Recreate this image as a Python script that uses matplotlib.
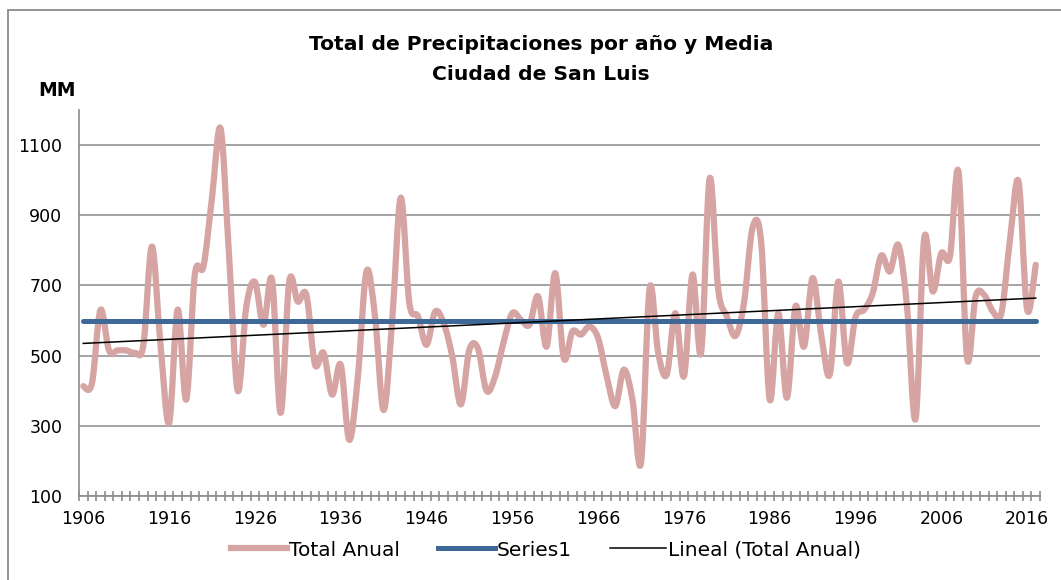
import numpy as np
import matplotlib
matplotlib.use("Agg")
import matplotlib.pyplot as plt
from matplotlib.path import Path
from matplotlib.patches import PathPatch, Rectangle
from matplotlib.lines import Line2D

plt.rcParams["font.family"] = ["DejaVu Sans"]

# ----------------------------------------------------------
# DATA
# ----------------------------------------------------------
years = list(range(1906, 2018))
total_anual = [
    413, 420, 630, 515, 515, 515, 508, 530, 811, 530,
    308, 631, 375, 731, 754, 950, 1147, 780, 400, 640,
    710, 588, 716, 337, 711, 654, 673, 475, 508, 389,
    474, 260, 440, 740, 612, 345, 600, 950, 650, 612,
    531, 625, 593, 498, 361, 517, 520, 400, 441, 540,
    621, 602, 588, 669, 526, 735, 493, 569, 560, 583,
    550, 441, 356, 460, 375, 195, 692, 508, 446, 621,
    441, 731, 508, 1005, 688, 612, 556, 650, 865, 825,
    375, 621, 380, 640, 526, 721, 560, 446, 711, 479,
    610, 631, 678, 785, 740, 815, 640, 320, 834, 683,
    792, 782, 1024, 493, 669, 673, 626, 621, 830, 996,
    631, 759,
]
media = 599
series1 = [media] * len(years)
label_years = list(range(1906, 2017, 10))
y_ticks = [100, 300, 500, 700, 900, 1100]

PINK = "#D6A4A3"
BLUE = "#3E6898"
GRID = "#8C8C8C"

# ----------------------------------------------------------
# smoothed line like Excel (bezier through every point)
# ----------------------------------------------------------
x = np.array(years, dtype=float)
y = np.array(total_anual, dtype=float)
pts = np.column_stack([x, y])
ext = np.vstack([pts[0], pts, pts[-1]])
verts = [pts[0]]
codes = [Path.MOVETO]
for i in range(len(pts) - 1):
    p_prev, p0, p1, p_next = ext[i], ext[i + 1], ext[i + 2], ext[i + 3]
    c1 = p0 + (p1 - p_prev) / 6.0
    c2 = p1 - (p_next - p0) / 6.0
    verts += [c1, c2, p1]
    codes += [Path.CURVE4] * 3

fig = plt.figure(figsize=(10.61, 5.80), dpi=100)
ax = fig.add_axes([79 / 1061, 84 / 580, (1040 - 79) / 1061, (496 - 110) / 580])

ax.add_patch(PathPatch(Path(verts, codes), fill=False, edgecolor=PINK, lw=4.5,
                       capstyle="round", joinstyle="round", zorder=3))
ax.plot(years, series1, color=BLUE, lw=3.6, solid_capstyle="round", zorder=4)

# linear trend
k, b = np.polyfit(x, y, 1)
ax.plot(x, k * x + b, color="black", lw=1.1, zorder=5)

ax.set_xlim(1905.5, 2017.5)
ax.set_ylim(100, 1200)
ax.set_yticks(y_ticks)
ax.set_yticklabels([str(v) for v in y_ticks])
ax.set_xticks(label_years)
ax.set_xticklabels([str(v) for v in label_years])
ax.set_xticks(np.arange(1905.5, 2018, 1.0), minor=True)
ax.tick_params(axis="x", which="major", length=0, pad=10, labelsize=12.5)
ax.tick_params(axis="x", which="minor", length=7, width=1.2, direction="inout", color=GRID)
ax.tick_params(axis="y", length=0, pad=12, labelsize=12.5)

ax.grid(axis="y", color=GRID, lw=1.1)
ax.set_axisbelow(True)
for s in ["top", "right"]:
    ax.spines[s].set_visible(False)
for s in ["left", "bottom"]:
    ax.spines[s].set_color(GRID)
    ax.spines[s].set_linewidth(1.2)

fig.text(541 / 1061, 1 - 45 / 580, "Total de Precipitaciones por año y Media",
         ha="center", va="center", fontsize=14.6, fontweight="bold")
fig.text(541 / 1061, 1 - 75 / 580, "Ciudad de San Luis",
         ha="center", va="center", fontsize=14.6, fontweight="bold")
fig.text(57 / 1061, 1 - 91 / 580, "MM", ha="center", va="center",
         fontsize=13.5, fontweight="bold")

handles = [Line2D([], [], color=PINK, lw=4.5),
           Line2D([], [], color=BLUE, lw=3.6),
           Line2D([], [], color="black", lw=1.1)]
fig.legend(handles, ["Total Anual", "Series1", "Lineal (Total Anual)"],
           loc="center", bbox_to_anchor=(546 / 1061, 1 - 550 / 580), ncol=3,
           frameon=False, fontsize=14.5, handlelength=2.8, handletextpad=0.1,
           columnspacing=1.9)

# chart area border (cropped at right and bottom)
fig.patches.append(Rectangle((8 / 1061, -0.1), 1.2, 1.1 - 10 / 580,
                             transform=fig.transFigure, fill=False,
                             edgecolor="#8A8A8A", lw=1.3))

fig.savefig("out.png", dpi=100)
